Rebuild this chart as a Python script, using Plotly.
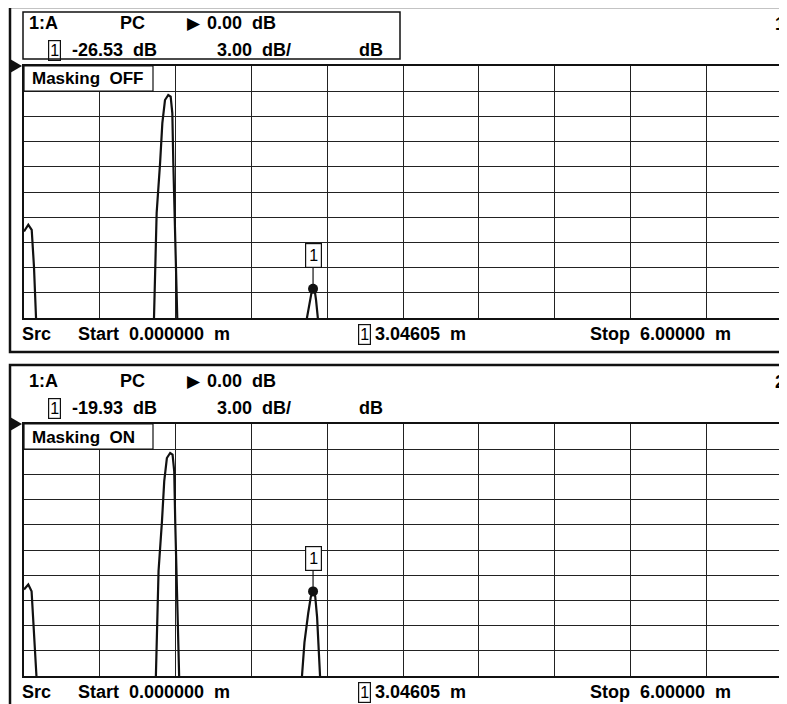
import plotly.graph_objects as go

W, H = 787, 704
OFS = 8  # the page body margin that the browser puts around the plot

# Trace with Masking OFF (distance in m, magnitude in dB); -40 = below the screen
dist_off = [0.0, 0.034, 0.061, 0.079, 0.095, 0.105, 0.3,
            1.0, 1.029, 1.050, 1.077, 1.095, 1.116, 1.142, 1.161, 1.174, 1.182, 1.195, 1.209, 1.23, 1.6,
            2.2, 2.236, 2.262, 2.278, 2.290, 2.302, 2.312, 2.328, 2.35, 6.0]
db_off = [-19.7, -18.9, -19.5, -23.9, -29.9, -33.0, -40.0,
          -40.0, -30.0, -17.5, -11.6, -6.8, -4.05, -3.45, -3.65, -5.6, -11.6, -19.5, -30.0, -40.0, -40.0,
          -40.0, -30.3, -28.0, -26.8, -26.53, -26.8, -27.9, -30.3, -40.0, -40.0]

# Trace with Masking ON
dist_on = [0.0, 0.034, 0.06, 0.074, 0.1, 0.11, 0.3,
           1.0, 1.044, 1.065, 1.092, 1.11, 1.131, 1.157, 1.176, 1.189, 1.197, 1.21, 1.224, 1.245, 1.6,
           2.15, 2.198, 2.22, 2.25, 2.27, 2.288, 2.305, 2.32, 2.335, 2.345, 2.37, 6.0]
db_on = [-19.7, -19.1, -19.9, -23.0, -30.0, -33.0, -40.0,
         -40.0, -30.0, -17.5, -11.6, -6.8, -4.05, -3.45, -3.65, -5.6, -11.6, -19.5, -30.0, -40.0, -40.0,
         -40.0, -30.5, -26.0, -22.5, -20.6, -19.93, -20.5, -23.0, -27.0, -30.5, -40.0, -40.0]

mkr_dist = 2.288
mkr_db = [-26.53, -19.93]
mkr_read = ['-26.53', '-19.93']
mask_txt = ['Masking  OFF', 'Masking  ON']
panel_id = ['1', '2']
start_txt = 'Start  0.000000  m'
stop_txt = 'Stop  6.00000  m'
mkr_pos_txt = '3.04605  m'


def px(x):
    return (x - OFS) / W


def py(y):
    return 1 - (y - OFS) / H


FONT = dict(family='Liberation Sans, Arial, sans-serif', size=18, color='black', weight='bold')
BOXFONT = dict(family='Liberation Sans, Arial, sans-serif', size=16, color='black')


def text(t, x, y, font=FONT, anchor='left'):
    return dict(text=t, x=px(x), y=py(y), xref='paper', yref='paper', xanchor=anchor,
                yanchor='middle', showarrow=False, font=font)


def boxed_one(x, y):
    return dict(text='1', x=px(x), y=py(y), xref='paper', yref='paper', xanchor='center',
                yanchor='middle', showarrow=False, bordercolor='#111', borderwidth=1.2, borderpad=1,
                font=BOXFONT)


fig = go.Figure()
fig.add_trace(go.Scatter(x=dist_off, y=db_off, mode='lines', line=dict(color='#111', width=2.2),
                         xaxis='x', yaxis='y', showlegend=False))
fig.add_trace(go.Scatter(x=dist_on, y=db_on, mode='lines', line=dict(color='#111', width=2.2),
                         xaxis='x2', yaxis='y2', showlegend=False))
fig.add_trace(go.Scatter(x=[mkr_dist], y=[mkr_db[0]], mode='markers', marker=dict(color='#111', size=10),
                         xaxis='x', yaxis='y', showlegend=False, cliponaxis=False))
fig.add_trace(go.Scatter(x=[mkr_dist], y=[mkr_db[1]], mode='markers', marker=dict(color='#111', size=10),
                         xaxis='x2', yaxis='y2', showlegend=False, cliponaxis=False))

ax = dict(range=[0, 6], dtick=0.6, tick0=0, showgrid=True, gridcolor='#222', gridwidth=1,
          showline=True, mirror=True, linecolor='#111', linewidth=1.5, showticklabels=False,
          ticks='', zeroline=False, fixedrange=True, domain=[px(24), px(782)])
ay = dict(range=[-30, 0], dtick=3, tick0=0, showgrid=True, gridcolor='#222', gridwidth=1,
          showline=True, mirror=True, linecolor='#111', linewidth=1.5, showticklabels=False,
          ticks='', zeroline=False, fixedrange=True)

shapes = []
annotations = []
for i, dy in enumerate([0, 358]):
    xr = 'x' if i == 0 else 'x2'
    yr = 'y' if i == 0 else 'y2'
    # panel frame
    shapes.append(dict(type='rect', xref='paper', yref='paper', x0=px(10), x1=px(810),
                       y0=py(7 + dy), y1=py(352 if i == 0 else 740), line=dict(color='#111', width=2.5)))
    # reference level triangle
    shapes.append(dict(type='path', xref='paper', yref='paper', fillcolor='#111', line=dict(width=0),
                       path=f'M {px(10)},{py(59 + dy)} L {px(22)},{py(66 + dy)} L {px(10)},{py(73 + dy)} Z'))
    # masking label box
    shapes.append(dict(type='rect', xref='paper', yref='paper', x0=px(24), x1=px(153),
                       y0=py(66 + dy), y1=py(91 + dy), fillcolor='white', layer='above',
                       line=dict(color='#111', width=1.2)))
    annotations.append(text(mask_txt[i], 30, 79 + dy, font=dict(FONT, size=17)))
    # marker stem and label
    shapes.append(dict(type='line', xref=xr, yref=yr, ysizemode='pixel', yanchor=mkr_db[i],
                       x0=mkr_dist, x1=mkr_dist, y0=0, y1=22, line=dict(color='#111', width=1.2)))
    annotations.append(dict(text='1', x=mkr_dist, y=mkr_db[i], xref=xr, yref=yr, yshift=33,
                            showarrow=False, bordercolor='#111', borderwidth=1.2, borderpad=3,
                            bgcolor='white', font=BOXFONT))
    # header lines
    annotations.append(text('1:A', 27, 23 + dy))
    annotations.append(text('PC', 118, 23 + dy))
    annotations.append(text('\u25b6', 185, 23 + dy, font=dict(FONT, family='DejaVu Sans', size=17)))
    annotations.append(text('0.00  dB', 205, 23 + dy))
    annotations.append(boxed_one(54, 50 + dy))
    annotations.append(text(mkr_read[i] + '  dB', 70, 50 + dy))
    annotations.append(text('3.00  dB/', 215, 50 + dy))
    annotations.append(text('dB', 357, 50 + dy))
    # bottom line
    annotations.append(text('Src', 20, 334 + dy))
    annotations.append(text(start_txt, 76, 334 + dy))
    annotations.append(boxed_one(364, 334 + dy))
    annotations.append(text(mkr_pos_txt, 373, 334 + dy))
    annotations.append(text(stop_txt, 588, 334 + dy))
    # channel number
    annotations.append(text(panel_id[i], 773, 24 + dy))

# active channel header box
shapes.append(dict(type='rect', xref='paper', yref='paper', x0=px(23), x1=px(400),
                   y0=py(12), y1=py(59), line=dict(color='#111', width=1.5)))

fig.update_layout(
    width=W, height=H, margin=dict(l=0, r=0, t=0, b=0),
    paper_bgcolor='white', plot_bgcolor='white',
    xaxis=dict(ax, anchor='y'),
    yaxis=dict(ay, anchor='x', domain=[py(318), py(66)]),
    xaxis2=dict(ax, anchor='y2'),
    yaxis2=dict(ay, anchor='x2', domain=[py(676), py(424)]),
    shapes=shapes, annotations=annotations,
)

fig.write_html("out.html")
